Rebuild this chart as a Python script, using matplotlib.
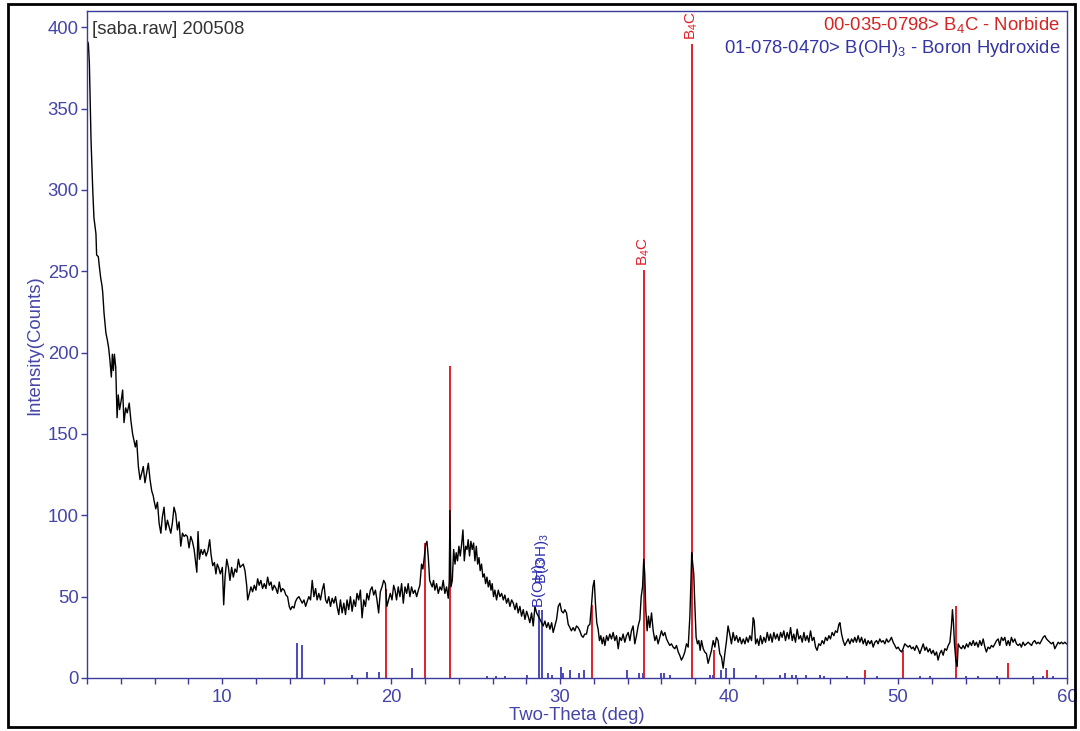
import matplotlib
matplotlib.use("Agg")
import matplotlib.pyplot as plt
from matplotlib.patches import Rectangle
from matplotlib.ticker import MultipleLocator

plt.rcParams['font.family'] = ['Liberation Sans', 'DejaVu Sans']
plt.rcParams['mathtext.fontset'] = 'custom'
plt.rcParams['mathtext.rm'] = 'Liberation Sans'
plt.rcParams['mathtext.it'] = 'Liberation Sans:italic'

two_theta = [
    2.00, 2.08, 2.14, 2.24, 2.34, 2.41, 2.53, 2.57, 2.67, 2.73, 2.81, 2.89, 2.93, 3.01,
    3.12, 3.20, 3.28, 3.36, 3.44, 3.50, 3.56, 3.62, 3.70, 3.78, 3.85, 3.93, 4.03, 4.11,
    4.19, 4.29, 4.38, 4.50, 4.60, 4.70, 4.78, 4.86, 4.94, 5.04, 5.14, 5.24, 5.33, 5.43,
    5.53, 5.63, 5.73, 5.83, 5.92,
    5.97, 6.07, 6.17, 6.27, 6.37, 6.46, 6.56, 6.66, 6.76, 6.86, 6.96, 7.05, 7.15, 7.25,
    7.35, 7.45, 7.55, 7.65, 7.75, 7.84, 7.94, 8.04, 8.14, 8.24, 8.34, 8.44, 8.50, 8.57,
    8.65, 8.75, 8.85, 8.95, 9.05, 9.15, 9.26, 9.34, 9.44, 9.54, 9.63, 9.71, 9.79, 9.89,
    10.01, 10.09, 10.17, 10.27, 10.37, 10.46, 10.56, 10.66, 10.76, 10.86, 10.96, 11.06,
    11.15, 11.25, 11.35, 11.45, 11.51, 11.61, 11.70, 11.80, 11.90, 12.00, 12.10, 12.19,
    12.29, 12.39, 12.49, 12.59, 12.69, 12.79, 12.89, 12.98, 13.08, 13.18, 13.28, 13.38,
    13.48, 13.57, 13.67, 13.77, 13.87, 13.97, 14.05, 14.15, 14.25, 14.34, 14.44, 14.54,
    14.64, 14.74, 14.84, 14.94, 15.03, 15.13, 15.23, 15.33, 15.43, 15.53, 15.62, 15.72,
    15.82, 15.92, 16.02, 16.12, 16.21, 16.31, 16.41, 16.51, 16.61, 16.71, 16.80, 16.90,
    17.00, 17.10, 17.20, 17.30, 17.39, 17.49, 17.59, 17.69, 17.79, 17.89, 17.98, 18.08,
    18.18, 18.28, 18.38, 18.48, 18.57, 18.67, 18.77, 18.87, 18.97, 19.07, 19.16, 19.26,
    19.36, 19.46, 19.56, 19.66, 19.75, 19.85, 19.95, 20.05, 20.15,
    20.23, 20.32, 20.42, 20.52, 20.62, 20.72, 20.82, 20.92, 21.01, 21.11, 21.21, 21.31,
    21.41, 21.51, 21.61, 21.70, 21.80, 21.88, 21.96, 22.04, 22.12, 22.20, 22.28, 22.35,
    22.43, 22.51, 22.59, 22.69, 22.79, 22.89, 22.99, 23.08, 23.18, 23.28, 23.38, 23.44,
    23.48, 23.54, 23.62, 23.70, 23.78, 23.85, 23.93, 24.01, 24.09, 24.17, 24.25, 24.33,
    24.41, 24.49, 24.56, 24.64, 24.72, 24.80, 24.88, 24.96, 25.04, 25.12, 25.20, 25.27,
    25.35, 25.43, 25.51, 25.59, 25.67, 25.75, 25.83, 25.91, 25.98, 26.06, 26.14, 26.24,
    26.34, 26.44, 26.54, 26.64, 26.73, 26.83, 26.93, 27.03, 27.13, 27.23, 27.33, 27.42,
    27.52, 27.62, 27.72, 27.82, 27.92, 28.02, 28.11, 28.21, 28.31, 28.41, 28.51, 28.61,
    28.81, 29.00, 29.10, 29.20, 29.30, 29.40, 29.50, 29.59, 29.69, 29.79, 29.89, 29.99,
    30.09, 30.19,
    30.28, 30.38, 30.48, 30.58, 30.67, 30.77, 30.87, 30.97, 31.07, 31.17, 31.27, 31.36,
    31.46, 31.56, 31.66, 31.76, 31.86, 31.94, 32.02, 32.09, 32.17, 32.25, 32.33, 32.41,
    32.49, 32.57, 32.65, 32.75, 32.84, 32.94, 33.04, 33.14, 33.24, 33.34, 33.44, 33.53,
    33.63, 33.73, 33.83, 33.93, 34.03, 34.13, 34.22, 34.32, 34.42, 34.52, 34.62, 34.72,
    34.80, 34.88, 34.95, 35.01, 35.07, 35.15, 35.23, 35.31, 35.41, 35.51, 35.61, 35.70,
    35.80, 35.90, 36.00, 36.10, 36.20, 36.30, 36.39, 36.49, 36.59, 36.69, 36.79, 36.89,
    36.99, 37.08, 37.18, 37.28, 37.38, 37.48, 37.58, 37.68, 37.74, 37.79, 37.85, 37.91,
    37.97, 38.05, 38.13, 38.21, 38.29, 38.37, 38.47, 38.56, 38.66, 38.76, 38.86, 38.96,
    39.06, 39.16, 39.25, 39.35, 39.45, 39.55, 39.65, 39.75, 39.85, 39.94, 40.04, 40.14,
    40.24, 40.34, 40.44, 40.54, 40.64, 40.74, 40.84, 40.94, 41.03, 41.13, 41.23, 41.33,
    41.43, 41.49, 41.57, 41.67, 41.76, 41.86, 41.96, 42.06, 42.16, 42.26, 42.36, 42.45,
    42.55, 42.65, 42.75, 42.85, 42.95, 43.05, 43.14, 43.24, 43.34, 43.44, 43.54, 43.64,
    43.74, 43.83, 43.93, 44.03, 44.13, 44.23, 44.33, 44.43, 44.52, 44.62, 44.72, 44.82,
    44.92, 45.02, 45.12, 45.21, 45.31, 45.41, 45.51, 45.61, 45.71, 45.81, 45.91, 46.00,
    46.10, 46.20, 46.30, 46.40, 46.50, 46.56, 46.66, 46.75, 46.85, 46.95, 47.05, 47.15,
    47.25, 47.35, 47.44, 47.54, 47.64, 47.74, 47.84, 47.94, 48.04, 48.13, 48.23, 48.33,
    48.43, 48.53, 48.63, 48.73, 48.82, 48.92, 49.02, 49.12, 49.22, 49.32, 49.42, 49.51,
    49.61, 49.71, 49.81, 49.91, 50.01, 50.11, 50.21, 50.30, 50.40, 50.50, 50.60, 50.70,
    50.80, 50.90, 50.99, 51.09, 51.19, 51.29, 51.39, 51.49, 51.59, 51.68, 51.78, 51.88,
    51.98, 52.08, 52.18, 52.28, 52.37, 52.47, 52.57, 52.67, 52.77, 52.87, 52.97, 53.07,
    53.16, 53.22, 53.28, 53.34, 53.42, 53.50, 53.56, 53.66, 53.76, 53.85, 53.95, 54.05,
    54.15, 54.25, 54.35, 54.45, 54.54, 54.64, 54.74, 54.84, 54.94, 55.04, 55.14, 55.23,
    55.33, 55.43, 55.53, 55.63, 55.73, 55.83, 55.93, 56.02, 56.12, 56.22, 56.32, 56.42,
    56.52, 56.61, 56.71, 56.81, 56.91, 57.01, 57.11, 57.21, 57.30, 57.40, 57.50, 57.60,
    57.70, 57.80, 57.90, 57.99, 58.09, 58.19, 58.29, 58.39, 58.49, 58.59, 58.69, 58.79,
    58.88, 58.98, 59.08, 59.18, 59.28, 59.38, 59.48, 59.57, 59.67, 59.77, 59.87, 59.97,
]
counts = [
    392, 390, 378, 330, 300, 283, 273, 260, 259, 253, 246, 241, 237, 224,
    212, 208, 203, 195, 185, 199, 189, 199, 191, 160, 174, 165, 171, 177,
    157, 166, 163, 169, 158, 150, 146, 142, 146, 130, 122, 126, 130, 120,
    126, 132, 122, 115, 112,
    109, 104, 108, 95, 89, 99, 105, 91, 97, 93, 89, 95, 105, 101,
    91, 96, 81, 89, 87, 88, 87, 80, 87, 84, 79, 70, 65, 90,
    73, 79, 76, 79, 75, 78, 85, 76, 69, 71, 64, 70, 68, 64,
    68, 45, 62, 73, 68, 60, 68, 62, 67, 65, 73, 68,
    69, 70, 66, 57, 48, 52, 56, 53, 57, 54, 61, 57,
    60, 55, 58, 55, 62, 57, 59, 54, 57, 55, 52, 59,
    53, 55, 54, 51, 50, 44, 42, 44, 43, 47, 49, 50,
    48, 46, 48, 44, 47, 50, 48, 60, 50, 55, 48, 52,
    48, 54, 58, 48, 46, 50, 44, 49, 46, 50, 44, 39,
    48, 40, 46, 39, 48, 42, 50, 41, 48, 44, 52, 48,
    54, 37, 48, 44, 52, 48, 54, 56, 51, 54, 48, 40,
    53, 56, 60, 58, 44, 48, 52, 48, 57,
    54, 48, 56, 50, 58, 46, 56, 52, 58, 50, 56, 52,
    54, 50, 54, 57, 70, 67, 74, 82, 84, 74, 60, 58,
    56, 60, 54, 58, 52, 56, 54, 60, 52, 56, 49, 60,
    103, 56, 60, 79, 70, 77, 72, 81, 75, 82, 91, 72,
    81, 79, 85, 75, 84, 79, 83, 72, 81, 70, 74, 66,
    70, 62, 64, 58, 62, 56, 60, 54, 58, 50, 54, 48,
    54, 50, 52, 48, 51, 46, 49, 44, 48, 46, 42, 46,
    40, 44, 38, 42, 36, 41, 38, 34, 40, 32, 44, 40,
    36, 32, 35, 31, 34, 30, 34, 28, 32, 36, 44, 46,
    41, 40,
    42, 40, 33, 31, 29, 31, 29, 32, 31, 29, 26, 25,
    27, 27, 32, 33, 45, 56, 60, 46, 34, 30, 23, 26,
    21, 25, 20, 26, 23, 27, 24, 28, 23, 26, 18, 25,
    23, 27, 22, 26, 28, 23, 29, 32, 21, 26, 32, 36,
    50, 56, 73, 64, 42, 29, 38, 31, 40, 29, 23, 26,
    21, 25, 29, 26, 28, 24, 22, 20, 21, 19, 18, 20,
    16, 14, 11, 13, 16, 21, 19, 38, 58, 77, 70, 64,
    46, 25, 21, 23, 17, 23, 18, 16, 15, 9, 13, 17,
    23, 19, 25, 23, 15, 13, 6, 15, 23, 32, 27, 21,
    28, 23, 26, 22, 25, 21, 24, 21, 25, 22, 26, 23,
    37, 35, 21, 24, 20, 26, 21, 25, 22, 28, 23, 27,
    22, 28, 24, 27, 23, 28, 25, 29, 23, 28, 24, 31,
    23, 27, 22, 30, 24, 26, 22, 28, 23, 26, 22, 29,
    23, 25, 19, 17, 21, 20, 23, 21, 25, 23, 26, 24,
    28, 26, 29, 28, 33, 34, 27, 23, 20, 22, 24, 21,
    24, 22, 25, 22, 26, 22, 25, 21, 24, 20, 23, 21,
    23, 19, 22, 23, 21, 24, 22, 23, 21, 24, 22, 23,
    25, 22, 20, 18, 19, 17, 16, 18, 21, 20, 19, 20,
    18, 19, 17, 20, 18, 15, 18, 21, 17, 19, 16, 18,
    15, 17, 14, 16, 11, 15, 17, 14, 18, 17, 20, 22,
    32, 42, 34, 21, 11, 7, 21, 19, 18, 20, 18, 21,
    19, 22, 20, 23, 20, 22, 19, 23, 20, 24, 19, 16,
    19, 18, 20, 19, 21, 23, 24, 20, 25, 23, 25, 20,
    23, 20, 25, 22, 24, 21, 20, 21, 19, 22, 20, 21,
    22, 21, 20, 22, 23, 21, 22, 21, 23, 25, 26, 24,
    23, 22, 21, 22, 18, 20, 22, 21, 22, 21, 22, 21,
]

# reference cards (stick positions and heights)
b4c_pos = [19.70, 22.00, 23.46, 31.88, 34.95, 37.80, 39.08, 48.04, 50.27, 53.42, 56.48, 58.84]
b4c_int = [55, 83, 192, 45, 251, 390, 17, 5, 17, 44, 9, 5]
b4c_labelled = [34.95, 37.80]

boh3_pos = [14.41, 14.70, 17.70, 18.55, 19.30, 21.25, 25.65, 26.18, 26.73, 28.07,
            28.76, 28.90, 29.30, 29.51, 30.05, 30.20, 30.60, 31.11, 31.41, 33.93,
            34.66, 34.88, 35.96, 36.14, 36.52, 38.86, 39.06, 39.55, 39.81, 40.28,
            41.57, 43.00, 43.32, 43.70, 43.99, 44.58, 45.37, 45.61, 46.95, 48.73,
            51.29, 51.88, 54.05, 54.74, 55.83, 57.99, 58.59, 59.18]
boh3_int = [21.5, 20, 2, 3.5, 3.5, 6, 1.5, 1.5, 1.5, 2,
            42, 42, 3, 2, 7, 3, 5, 3, 5, 5,
            3, 3, 3, 3, 2, 2, 2, 5, 6, 6,
            2, 2, 3, 2, 2, 2, 2, 1.5, 1.5, 1.5,
            1.5, 1.5, 1.5, 1.5, 1.5, 1.5, 1.5, 1.5]
boh3_labelled = [28.76, 28.90]
boh3_label_y = [43, 58]

blue = '#3b3b9e'
text_blue = '#4545a8'
red = '#e0202a'

fig = plt.figure(figsize=(10.8, 7.31), dpi=100)
ax = fig.add_axes([87 / 1080, 53 / 731, 980 / 1080, 667 / 731])

# sticks first, pattern on top
ax.vlines(boh3_pos, 0, boh3_int, color='#2a2ab0', lw=1.2)
ax.vlines(b4c_pos, 0, b4c_int, color=red, lw=1.4)
ax.plot(two_theta, counts, color='black', lw=1.0)

for p, h in zip(b4c_pos, b4c_int):
    if p in b4c_labelled:
        ax.text(p, h + 2, r'B$_4$C', rotation=90, ha='center', va='bottom',
                color=red, fontsize=11, clip_on=False)
for p, yl in zip(boh3_labelled, boh3_label_y):
    ax.text(p, yl, r'B(OH)$_3$', rotation=90, ha='center', va='bottom',
            color='#3030b0', fontsize=11)

ax.text(0.005, 0.985, '[saba.raw] 200508', transform=ax.transAxes, ha='left', va='top',
        color='#333333', fontsize=13.3)
ax.text(0.993, 0.994, r'00-035-0798> B$_4$C - Norbide', transform=ax.transAxes,
        ha='right', va='top', color='#d42424', fontsize=13.3)
ax.text(0.993, 0.959, r'01-078-0470> B(OH)$_3$ - Boron Hydroxide', transform=ax.transAxes,
        ha='right', va='top', color='#3434a4', fontsize=13.3)

ax.set_xlim(2, 60)
ax.set_ylim(0, 410)
ax.xaxis.set_major_locator(MultipleLocator(10))
ax.xaxis.set_minor_locator(MultipleLocator(2))
ax.yaxis.set_major_locator(MultipleLocator(50))
ax.tick_params(which='both', direction='out', length=4, width=1, colors=blue,
               labelcolor=text_blue, labelsize=13.3)
ax.tick_params(axis='x', pad=4)
ax.tick_params(axis='y', pad=2)
for s in ax.spines.values():
    s.set_color(blue)
    s.set_linewidth(1.0)

fig.text(577 / 1080, 1 - 716 / 731, 'Two-Theta (deg)', ha='center', va='center',
         color=text_blue, fontsize=13.3)
fig.text(35 / 1080, 1 - 345 / 731, 'Intensity(Counts)', ha='center', va='center',
         rotation=90, color=text_blue, fontsize=13.3)

# outer frame of the exported picture
fig.add_artist(Rectangle((8 / 1080, 4 / 731), 1067 / 1080, 723 / 731,
                         transform=fig.transFigure, fill=False, ec='black', lw=2))

fig.savefig('out.png', dpi=100)
